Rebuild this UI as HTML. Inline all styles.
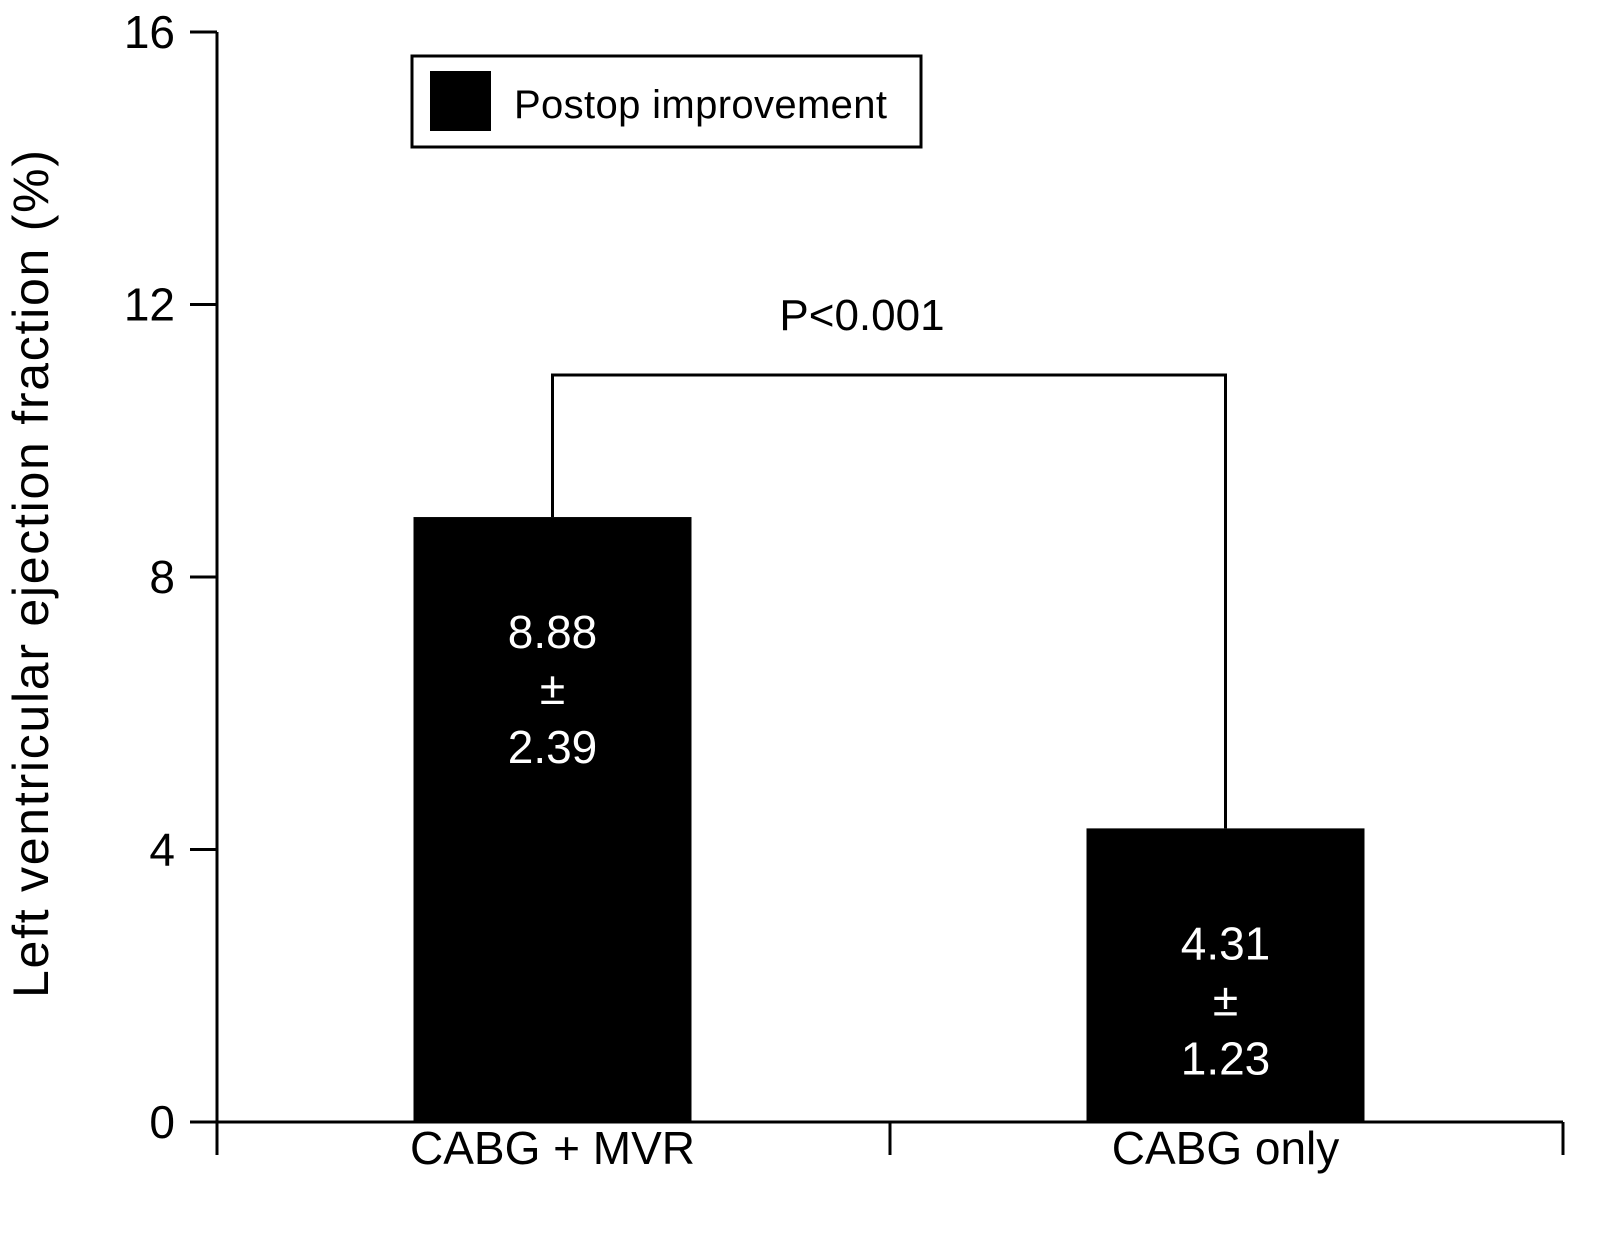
<!DOCTYPE html>
<html><head><meta charset="utf-8"><style>
html,body{margin:0;padding:0;background:#fff}
svg{display:block}
text{font-family:"Liberation Sans",Arial,sans-serif}
</style></head><body>
<svg id="chart" width="1597" height="1236" viewBox="0 0 1597 1236" xmlns="http://www.w3.org/2000/svg">
<g id="axes"></g>
<g id="bars"></g>
<g id="legend">
<rect x="412" y="56" width="509" height="91" fill="#fff" stroke="#000" stroke-width="3"/>
<rect x="430" y="71" width="61" height="60" fill="#000"/>
<text x="514" y="118" font-size="40" textLength="373">Postop improvement</text>
</g>
<text x="48" y="574" font-size="50" text-anchor="middle" textLength="848" transform="rotate(-90 48 574)">Left ventricular ejection fraction (%)</text>
</svg>
<script>
const categories = ["CABG + MVR", "CABG only"];
const values = [8.88, 4.31];
const errors = ["2.39", "1.23"];
const yTicks = [0, 4, 8, 12, 16];
const pLabel = "P<0.001";

const NS = "http://www.w3.org/2000/svg";
const y0 = 1122, yTop = 32, yMax = 16;
const xLeft = 217, xRight = 1563;
const y = v => y0 - (v / yMax) * (y0 - yTop);
const band = (xRight - xLeft) / categories.length;
const xc = i => xLeft + band * (i + 0.5) - 1;
const barW = 278;
function mk(tag, attrs, parent) { const e = document.createElementNS(NS, tag); for (const k in attrs) e.setAttribute(k, attrs[k]); parent.appendChild(e); return e; }
const axes = document.getElementById("axes");
const bars = document.getElementById("bars");
const svg = document.getElementById("chart");

let l = mk("line", {x1: xLeft, y1: yTop, x2: xLeft, y2: y0, stroke: "#000", "stroke-width": 3}, axes);


l = mk("line", {x1: xLeft, y1: y0, x2: xRight, y2: y0, stroke: "#000", "stroke-width": 3}, axes);


yTicks.forEach(t => {
  const tk = mk("line", {x1: 190, y1: y(t), x2: xLeft, y2: y(t), stroke: "#000", "stroke-width": 3}, axes);
  
  
  const tx = mk("text", {x: 175, y: y(t) + 16, "font-size": 46, "text-anchor": "end"}, axes);
  tx.textContent = t;
  
  
});
for (let i = 0; i <= categories.length; i++) {
  const xx = xLeft + band * i;
  const tk = mk("line", {x1: xx, y1: y0, x2: xx, y2: 1155, stroke: "#000", "stroke-width": 3}, axes);
  
  
}
categories.forEach((c, i) => {
  const r = mk("rect", {x: xc(i) - barW / 2, y: y(values[i]), width: barW, height: y0 - y(values[i]), fill: "#000"}, bars);
  
  
  const cx = xc(i);
  const top = y(values[i]);
  [[values[i].toFixed(2), 131], ["±", 187], [errors[i], 246]].forEach(([s, dy]) => {
    const t = mk("text", {x: cx, y: top + dy, "font-size": 46, "text-anchor": "middle", fill: "#fff"}, bars);
    t.textContent = s;
    
    
  });
  const xl = mk("text", {x: cx, y: 1164, "font-size": 46, "text-anchor": "middle"}, axes);
  xl.textContent = c;
  
  
});
const bY = 375;
const br = mk("polyline", {points: `${xc(0)},${y(values[0])} ${xc(0)},${bY} ${xc(1)},${bY} ${xc(1)},${y(values[1])}`, fill: "none", stroke: "#000", "stroke-width": 3}, svg);


const pt = mk("text", {x: 862, y: 330, "font-size": 44, "text-anchor": "middle"}, svg);
pt.textContent = pLabel;


</script>
</body></html>
